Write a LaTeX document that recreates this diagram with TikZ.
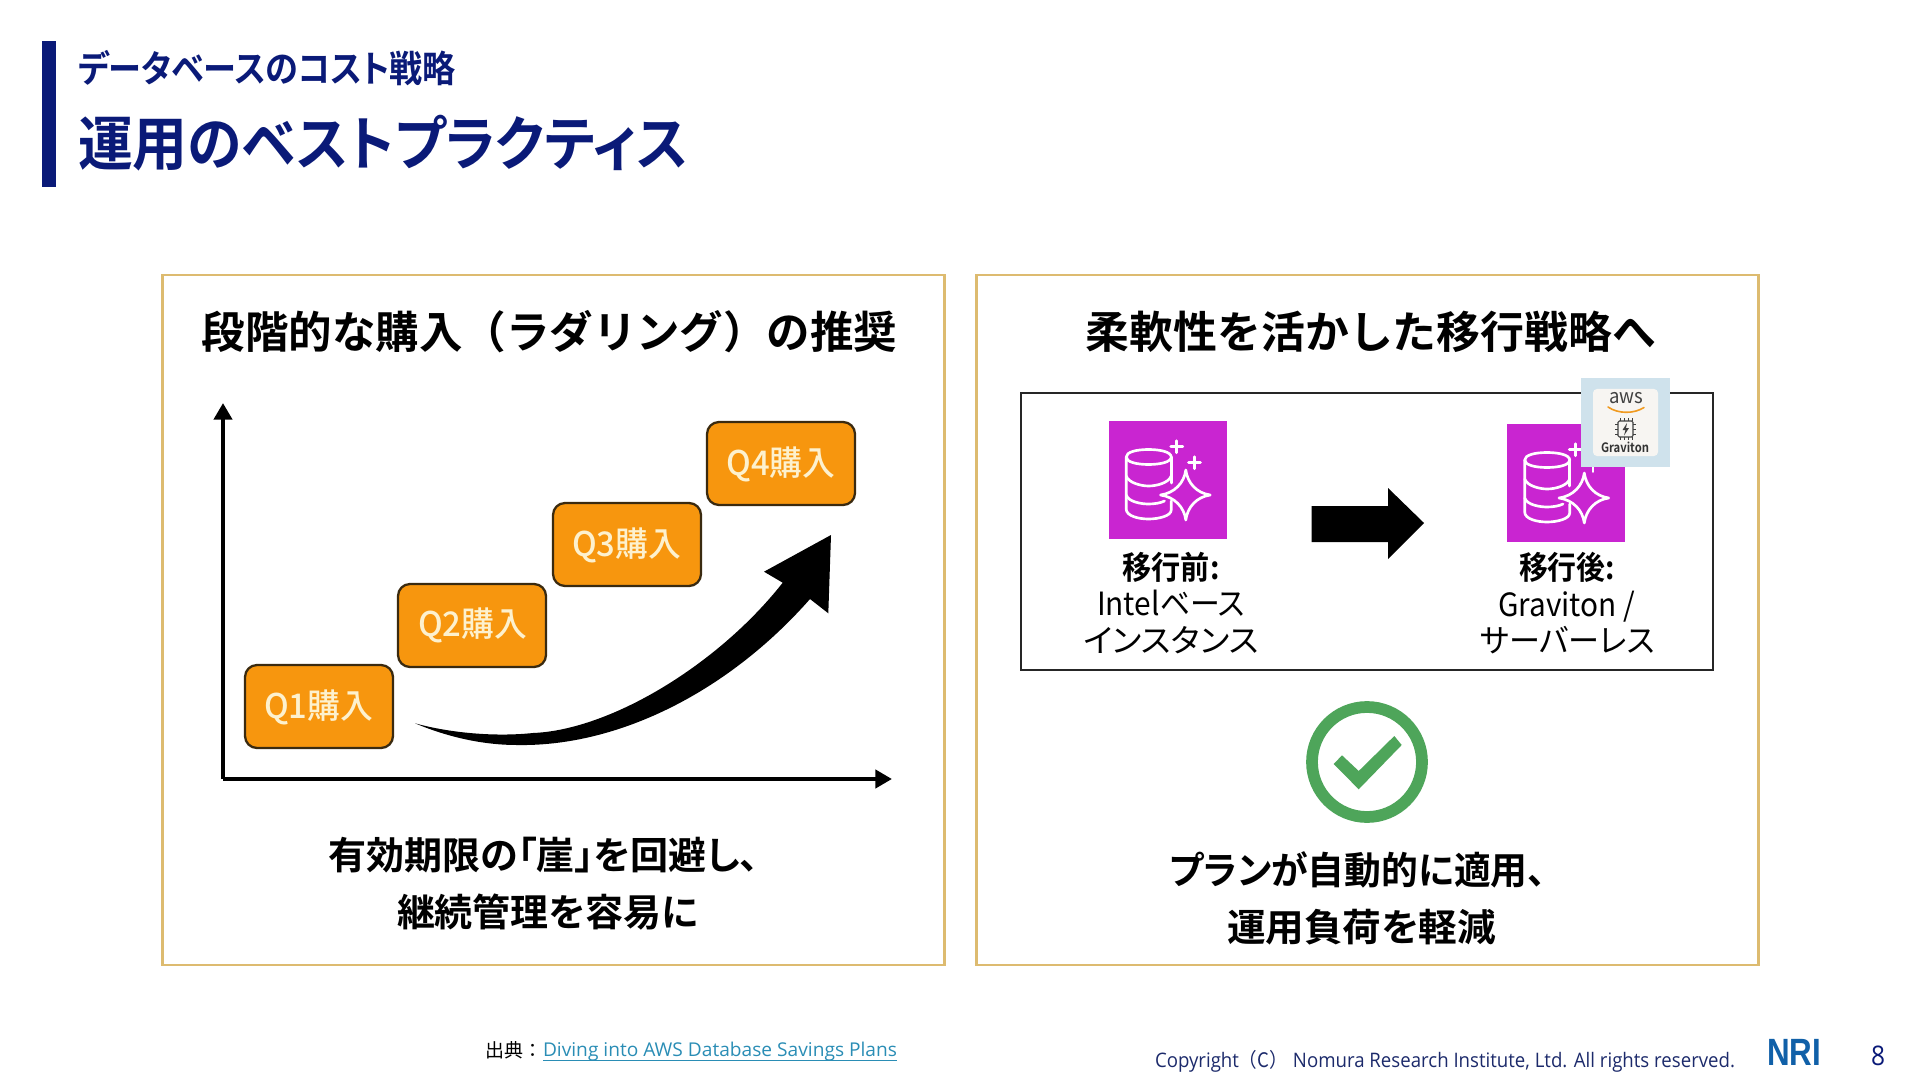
\documentclass[tikz,border=0pt]{standalone}
\usepackage{graphicx}
\usepackage{fontspec}
\usetikzlibrary{arrows.meta}
\setmainfont{Noto Sans CJK JP}
\newfontfamily\jpr[RawFeature={+palt}]{Noto Sans CJK JP}
\newfontfamily\jpn{Noto Sans CJK JP}
\newfontfamily\jpb[RawFeature={+palt}]{Noto Sans CJK JP Bold}
\newfontfamily\jpbn{Noto Sans CJK JP Bold}
\newfontfamily\jpm[RawFeature={+palt}]{Noto Sans CJK JP Medium}
\newfontfamily\latf{Open Sans}
\newfontfamily\nrif{Liberation Sans Bold}
\definecolor{navy}{HTML}{0A1A78}
\definecolor{gold}{HTML}{DDBB70}
\definecolor{boxor}{HTML}{F7960E}
\definecolor{boxline}{HTML}{3A2A10}
\definecolor{cream}{HTML}{FDF1CE}
\definecolor{purple}{HTML}{C925D1}
\definecolor{okgreen}{HTML}{4EA55A}
\definecolor{linkc}{HTML}{2A8DB5}
\definecolor{footnavy}{HTML}{1C2A6B}
\definecolor{nriblue}{HTML}{1060A8}
\definecolor{gravbg}{HTML}{CFE2EC}
\definecolor{gravin}{HTML}{F7F5F2}
\definecolor{awsor}{HTML}{F09A20}
\newsavebox\fitbox
\newcommand\fitw[2]{\sbox\fitbox{#2}\pgfmathsetmacro\fitr{#1*0.75/\the\wd\fitbox}\scalebox{\fitr}[1]{\usebox\fitbox}}
\newcommand\sz[1]{\fontsize{\fpeval{#1*0.75}}{\fpeval{#1*0.9}}\selectfont}
\tikzset{
  txt/.style={inner sep=0pt,outer sep=0pt,anchor=center},
  panel/.style={draw=gold,line width=1.9pt,fill=white},
  qbox/.style={draw=boxline,line width=1.7pt,fill=boxor,rounded corners=9pt},
  axisline/.style={line width=3.6pt,-{Triangle[length=12.5pt,width=13.5pt]}},
  iconline/.style={draw=white,line width=2pt,line join=round,line cap=round},
  pics/dbicon/.style={code={
    \fill[purple] (0,0) rectangle (118,118);
    \draw[iconline] (40,28.5) .. controls (28,28.5) and (17.7,31) .. (17.7,36) .. controls (17.7,41) and (28,43.5) .. (40,43.5) .. controls (52,43.5) and (62.7,41) .. (62.7,36) .. controls (62.7,31) and (52,28.5) .. (40,28.5) -- cycle;
    \draw[iconline] (17.7,36) -- (17.7,88) .. controls (17.7,95) and (30,98) .. (40,98) .. controls (50,98) and (62.7,95) .. (62.7,89) -- (62.7,80);
    \draw[iconline] (62.7,36) -- (62.7,62);
    \draw[iconline] (17.7,55) .. controls (20,62) and (33,65) .. (40,65) .. controls (48,65) and (60,62) .. (62.7,55);
    \draw[iconline] (17.7,74) .. controls (20,81) and (33,83) .. (40,83) .. controls (46,83) and (52,82) .. (56,80);
    \draw[iconline,fill=purple] (77.3,49) .. controls (79,62) and (88,72) .. (101.7,74) .. controls (88,76) and (79,86) .. (77.3,99) .. controls (75.6,86) and (66,76) .. (52,74) .. controls (66,72) and (75.6,62) .. (77.3,49) -- cycle;
    \draw[iconline] (62.3,25.7) -- (74.3,25.7) (68.3,19.7) -- (68.3,31.7);
    \draw[iconline] (80,41.7) -- (92,41.7) (86,35.7) -- (86,47.7);
  }}
}
\begin{document}
\begin{tikzpicture}[x=0.75pt,y=-0.75pt]
\useasboundingbox (0,0) rectangle (1920,1080);
% title
\fill[navy] (42,41) rectangle (56,187);
\node[txt,text=navy] (t1) at (267,68) {\fitw{378}{\jpb\sz{37}データベースのコスト戦略}};
\node[txt,text=navy] (t2) at (383,143) {\fitw{610}{\jpb\sz{59}運用のベストプラクティス}};
% panels
\node[panel,minimum width=782*0.75pt,minimum height=690*0.75pt,inner sep=0pt] (pl) at (553.5,620) {};
\node[panel,minimum width=782*0.75pt,minimum height=690*0.75pt,inner sep=0pt] (pr) at (1367.5,620) {};
\node[txt] (hl) at (549.5,332) {\fitw{696}{\jpbn\sz{44}段階的な購入（ラダリング）の推奨}};
\node[txt] (hr) at (1371,332) {\fitw{571}{\jpbn\sz{44}柔軟性を活かした移行戦略へ}};
% chart axes
\coordinate (org) at (223,779);
\coordinate (ytop) at (223,403);
\coordinate (xend) at (892,779);
\draw[axisline] (org) -- (ytop);
\draw[axisline] (org) -- (xend);
% steps
\node[qbox,minimum width=148*0.75pt,minimum height=83*0.75pt,inner sep=0pt] (q1) at (319,706.5) {};
\node[qbox,minimum width=148*0.75pt,minimum height=83*0.75pt,inner sep=0pt] (q2) at (472,625.5) {};
\node[qbox,minimum width=148*0.75pt,minimum height=83*0.75pt,inner sep=0pt] (q3) at (627,544.5) {};
\node[qbox,minimum width=148*0.75pt,minimum height=83*0.75pt,inner sep=0pt] (q4) at (781,463.5) {};
\node[txt,text=cream] (lq1) at (318.5,707) {\fitw{109}{\jpm\sz{34}Q1購入}};
\node[txt,text=cream] (lq2) at (472.5,625) {\fitw{109}{\jpm\sz{34}Q2購入}};
\node[txt,text=cream] (lq3) at (626.5,545) {\fitw{109}{\jpm\sz{34}Q3購入}};
\node[txt,text=cream] (lq4) at (781,464) {\fitw{109}{\jpm\sz{34}Q4購入}};
% growth arrow
\fill[black] (415,723.3) .. controls (450,738) and (485,745) .. (516.7,745)
  .. controls (620,747) and (730,690) .. (810,599)
  -- (828.3,613.3) -- (831,535) -- (764,571.7) -- (782.7,582.7)
  .. controls (718,665) and (610,730) .. (533,733)
  .. controls (495,737) and (450,733) .. (415,723.3) -- cycle;
% left caption
\node[txt] (cl1) at (543.5,855) {\fitw{431}{\jpb\sz{38}有効期限の「崖」を回避し、}};
\node[txt] (cl2) at (547.5,912) {\fitw{301}{\jpb\sz{38}継続管理を容易に}};
% migration box
\node[draw=black!85,line width=1.6pt,fill=white,minimum width=691.5*0.75pt,minimum height=277*0.75pt,inner sep=0pt] (mb) at (1367,531.5) {};
\pic at (1108.5,421) {dbicon};
\pic at (1507,424) {dbicon};
\fill[black] (1311.5,506) -- (1388,506) -- (1388,488) -- (1424,523) -- (1388,559) -- (1388,542) -- (1311.5,542) -- cycle;
\node[txt] (b1) at (1171,567) {\fitw{97}{\jpb\sz{32}移行前:}};
\node[txt] (b2) at (1171,603.5) {\fitw{148}{\jpr\sz{32}Intelベース}};
\node[txt] (b3) at (1171,640) {\fitw{175}{\jpr\sz{32}インスタンス}};
\node[txt] (a1) at (1567,567) {\fitw{96}{\jpb\sz{32}移行後:}};
\node[txt] (a2) at (1566.5,606.5) {\fitw{137}{\jpr\sz{32}Graviton /}};
\node[txt] (a3) at (1567.5,640) {\fitw{175}{\jpr\sz{32}サーバーレス}};
% graviton badge
\fill[gravbg] (1581,378) rectangle (1670,467);
\fill[gravin,rounded corners=3pt] (1593,389) rectangle (1658,456);
\node[txt,text=black!75] (aws) at (1626,398) {\fitw{34}{\jpr\sz{20}aws}};
\draw[awsor,line width=1.2pt,line cap=round] (1608,407) .. controls (1618,414) and (1634,414) .. (1644,407.5);
\draw[black!75,line width=0.8pt,rounded corners=1pt] (1618,421) rectangle (1633,437);
\fill[black!75] (1627,423) -- (1622.5,430) -- (1625.5,430) -- (1624,435.5) -- (1629,428) -- (1626,428) -- cycle;
\draw[black!75,line width=0.5pt] (1620,418) -- (1620,421) (1624,418) -- (1624,421) (1628,418) -- (1628,421) (1632,418) -- (1632,421)
  (1620,437) -- (1620,440) (1624,437) -- (1624,440) (1628,437) -- (1628,440) (1632,437) -- (1632,440)
  (1615,424) -- (1618,424) (1615,429) -- (1618,429) (1615,434) -- (1618,434)
  (1633,424) -- (1636,424) (1633,429) -- (1636,429) (1633,434) -- (1636,434);
\node[txt,text=black!80] (grav) at (1625,447) {\fitw{48}{\jpb\sz{13}Graviton}};
% check
\draw[okgreen,line width=8.8pt] (1367,762) circle (55);
\fill[okgreen] (1333.7,764) -- (1342,755.3) -- (1358.7,771) -- (1394.3,736) -- (1401.7,745) -- (1358.7,789.3) -- cycle;
\node[txt] (cr1) at (1358,870) {\fitw{376}{\jpb\sz{38}プランが自動的に適用、}};
\node[txt] (cr2) at (1361.5,927) {\fitw{269}{\jpb\sz{38}運用負荷を軽減}};
% footer
\node[txt] (src) at (513.5,1050) {\fitw{57}{\jpn\sz{19}出典：}};
\node[txt,text=linkc] (lnk) at (720,1052) {\fitw{354}{\latf\sz{19}Diving into AWS Database Savings Plans}};
\draw[linkc,line width=0.9pt] (543,1060.5) -- (897,1060.5);
\node[txt,text=footnavy] (cp) at (1445,1061.5) {\fitw{580}{\latf\sz{20}Copyright{\jpn （C）}\ Nomura Research Institute, Ltd. All rights reserved.}};
\node[txt,text=nriblue] (nri) at (1794,1052) {\fitw{54}{\nrif\sz{38}NRI}};
\node[txt,text=navy] (pg) at (1878,1056) {\fitw{14}{\latf\sz{27}8}};
\end{tikzpicture}
\end{document}
